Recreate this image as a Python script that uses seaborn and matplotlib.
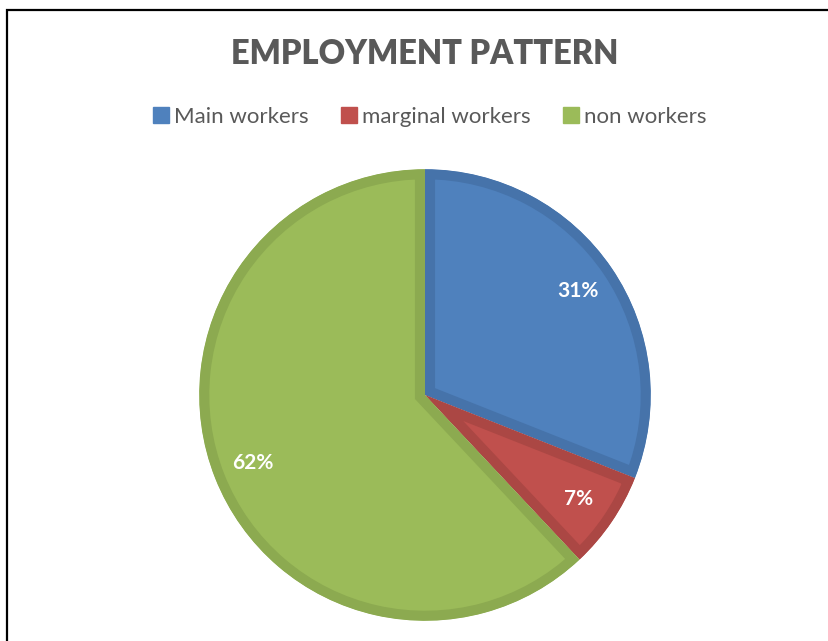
import matplotlib
matplotlib.use("Agg")
import matplotlib.pyplot as plt
from matplotlib.patches import Patch, Rectangle
import seaborn as sns

# Employment pattern shares (%)
categories = ["Main workers", "marginal workers", "non workers"]
shares = [31, 7, 62]
fill_colors = ["#4F81BD", "#C0504D", "#9BBB59"]
edge_colors = ["#4673AA", "#AB4744", "#8CAA50"]
title_text = "EMPLOYMENT PATTERN"

sns.set_theme(style="white")
plt.rcParams["font.family"] = ["Lato", "DejaVu Sans"]

W, H = 829, 641
fig = plt.figure(figsize=(W / 100, H / 100), dpi=100)
fig.patch.set_facecolor("white")

# Outer chart frame (left and top edges visible, the rest runs off the canvas)
frame = Rectangle((7 / W, -0.1), 1.2, 1 - 10 / H + 0.1, transform=fig.transFigure,
                  fill=False, edgecolor="black", linewidth=1.6)
fig.add_artist(frame)

cx, cy, R = 425, 395, 226
ax = fig.add_axes([(cx - R) / W, (H - cy - R) / H, 2 * R / W, 2 * R / H])
wedges, texts, autotexts = ax.pie(
    shares, colors=fill_colors, startangle=90, counterclock=False,
    autopct=lambda p: f"{p:.0f}%", pctdistance=0.82, radius=1.0,
    textprops=dict(color="white", fontsize=15, fontweight="bold"),
)
# Thick inner border in a darker shade of each slice colour
for w, ec in zip(wedges, edge_colors):
    w.set_edgecolor(ec)
    w.set_linewidth(14.5)
    w.set_clip_on(True)
    w.set_clip_path(w)
ax.set_xlim(-1.001, 1.001)
ax.set_ylim(-1.001, 1.001)
ax.set_aspect("equal")
ax.axis("off")

fig.text(cx / W, 1 - 54 / H, title_text, ha="center", va="center",
         fontsize=23.5, fontweight="heavy", color="#595959")

handles = [Patch(facecolor=c, edgecolor=c) for c in fill_colors]
fig.legend(handles, categories, loc="center", bbox_to_anchor=(430 / W, 1 - 117 / H),
           ncol=3, frameon=False, fontsize=16, labelcolor="#595959",
           handlelength=0.7, handleheight=0.7, handletextpad=0.25,
           columnspacing=1.45)

fig.savefig("out.png", dpi=100, facecolor="white")
